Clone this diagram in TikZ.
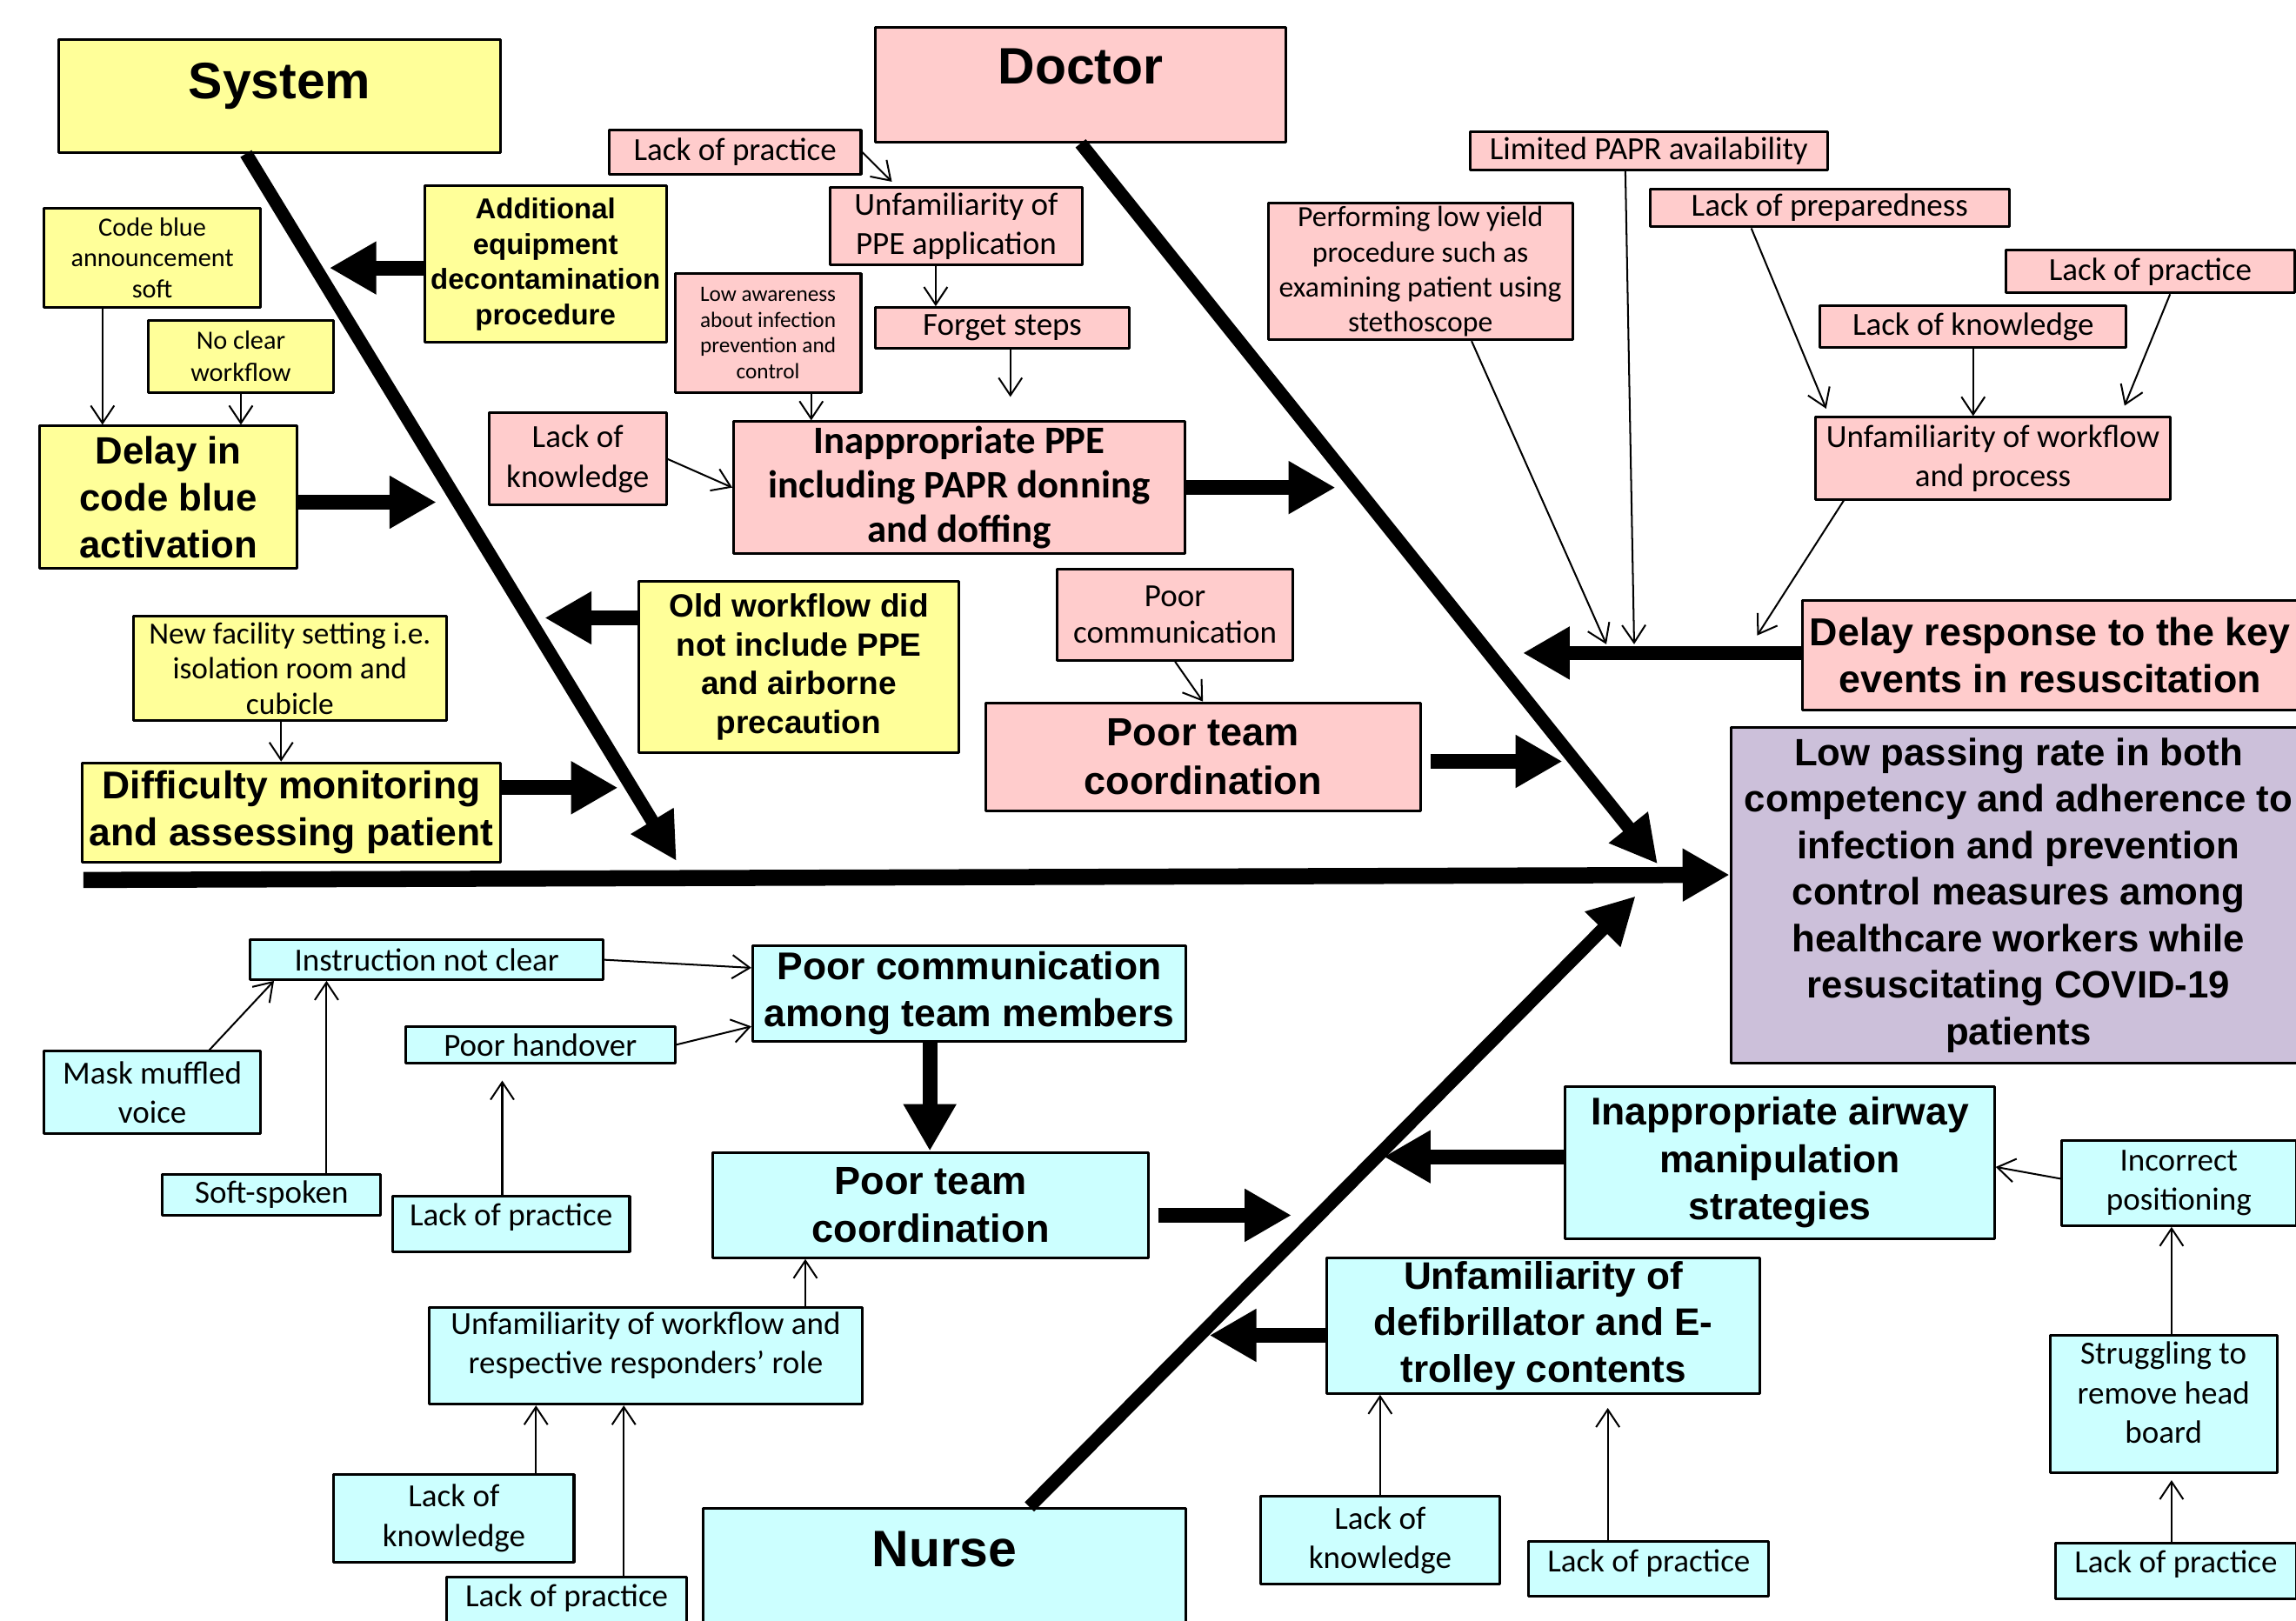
\documentclass[tikz,border=0pt]{standalone}
\usepackage{fontspec}
\setmainfont{Liberation Sans}
\newfontfamily\calfont{Carlito}
\usetikzlibrary{arrows.meta}
\definecolor{sysfill}{HTML}{FFFF99}
\definecolor{docfill}{HTML}{FFCCCC}
\definecolor{nurfill}{HTML}{CCFFFF}
\definecolor{effectfill}{HTML}{CCC0DA}

\begin{document}
\begin{tikzpicture}[x=0.5pt,y=-0.5pt,line join=bevel,
  box/.style={draw,line width=0.9pt,align=center,inner sep=1pt},
  sysbox/.style={box,fill=sysfill},
  docbox/.style={box,fill=docfill},
  nurbox/.style={box,fill=nurfill},
  head/.style={font=\fontsize{17.5}{21}\selectfont\bfseries},
  big/.style={font=\fontsize{13.2}{16}\selectfont\bfseries},
  mid/.style={font=\fontsize{11}{13.3}\selectfont\bfseries},
  small/.style={font=\calfont\fontsize{11}{13.5}\selectfont},
  thin/.style={-{Straight Barb[length=6pt,width=8pt]},line width=0.6pt},
  fat/.style={-{Triangle[length=16pt,width=17pt]},line width=5pt},
  bone/.style={-{Triangle[length=16pt,width=16pt]},line width=4.5pt},
]
\path [use as bounding box,fill=white] (0,0) rectangle (1568,1107);
%%
\node (effect) at (1378.5,611.5) [box,fill=effectfill,font=\fontsize{13}{15.9}\selectfont\bfseries,minimum width=196.5pt,minimum height=114.5pt] {Low passing rate in both\\competency and adherence to\\infection and prevention\\control measures among\\healthcare workers while\\resuscitating COVID-19\\patients};
%% system
\node (sys_0) at (191,65.5) [sysbox,head,minimum width=151pt,minimum height=38.5pt,text depth=10.5pt] {System};
\node (sys_1) at (104,176) [sysbox,font=\calfont\fontsize{9}{10.5}\selectfont,minimum width=74pt,minimum height=34pt] {Code blue\\announcement\\soft};
\node (sys_2) at (164.5,243.5) [sysbox,font=\calfont\fontsize{9}{11}\selectfont,minimum width=63.5pt,minimum height=24.5pt] {No clear\\workflow};
\node (sys_3) at (372.5,180.5) [sysbox,font=\fontsize{9.8}{12}\selectfont\bfseries,minimum width=82.5pt,minimum height=53.5pt] {Additional\\equipment\\decontamination\\procedure};
\node (sys_4) at (115,339.5) [sysbox,font=\fontsize{13}{16}\selectfont\bfseries,minimum width=88pt,minimum height=48.5pt] {Delay in\\code blue\\activation};
\node (sys_5) at (545.5,455.5) [sysbox,mid,minimum width=109.5pt,minimum height=58.5pt] {Old workflow did\\not include PPE\\and airborne\\precaution};
\node (sys_6) at (198,456.5) [sysbox,font=\calfont\fontsize{10.5}{12}\selectfont,minimum width=107pt,minimum height=35.5pt] {New facility setting i.e.\\isolation room and\\cubicle};
\node (sys_7) at (199,555) [sysbox,big,minimum width=143pt,minimum height=34pt] {Difficulty monitoring\\and assessing patient};
%% doctor
\node (doc_0) at (738,58) [docbox,head,minimum width=140pt,minimum height=39pt,text depth=13pt] {Doctor};
\node (doc_1) at (502,104) [docbox,small,minimum width=86pt,minimum height=15pt] {Lack of practice};
\node (doc_2) at (653,154.5) [docbox,small,minimum width=86pt,minimum height=26.5pt] {Unfamiliarity of\\PPE application};
\node (doc_3) at (684.5,224) [docbox,small,minimum width=86.5pt,minimum height=14pt] {Forget steps};
\node (doc_4) at (524.5,227.5) [docbox,font=\calfont\fontsize{7.5}{8.75}\selectfont,minimum width=63.5pt,minimum height=40.5pt] {Low awareness\\about infection\\prevention and\\control};
\node (doc_5) at (394.5,313.5) [docbox,small,minimum width=60.5pt,minimum height=31.5pt] {Lack of\\knowledge};
\node (doc_6) at (655,333) [docbox,font=\calfont\fontsize{13.3}{15.2}\selectfont\bfseries,minimum width=154pt,minimum height=45pt] {Inappropriate PPE\\including PAPR donning\\and doffing};
\node (doc_7) at (802.5,420) [docbox,font=\calfont\fontsize{11}{12.5}\selectfont,minimum width=80.5pt,minimum height=31pt] {Poor\\communication};
\node (doc_8) at (821.5,517) [docbox,font=\fontsize{13.4}{16.5}\selectfont\bfseries,minimum width=148.5pt,minimum height=37pt] {Poor team\\coordination};
\node (doc_9) at (970,185.5) [docbox,font=\calfont\fontsize{10}{12}\selectfont,minimum width=104pt,minimum height=46.5pt] {Performing low yield\\procedure such as\\examining patient using\\stethoscope};
\node (doc_10) at (1126,103) [docbox,small,minimum width=122pt,minimum height=13pt] {Limited PAPR availability};
\node (doc_11) at (1249.5,142) [docbox,small,minimum width=122.5pt,minimum height=13pt] {Lack of preparedness};
\node (doc_12) at (1468.5,185.5) [docbox,small,minimum width=98.5pt,minimum height=14.5pt] {Lack of practice};
\node (doc_13) at (1347.5,223) [docbox,small,minimum width=104.5pt,minimum height=14pt] {Lack of knowledge};
\node (doc_14) at (1361,313) [docbox,small,minimum width=121pt,minimum height=28pt] {Unfamiliarity of workflow\\and process};
\node (doc_15) at (1400,447.5) [docbox,font=\fontsize{13.3}{16}\selectfont\bfseries,minimum width=169pt,minimum height=37.5pt] {Delay response to the key\\events in resuscitation};
%% nurse
\node (nur_0) at (645,1077.5) [nurbox,head,minimum width=165pt,minimum height=47.5pt,text depth=19.5pt] {Nurse};
\node (nur_1) at (291.5,655.5) [nurbox,small,minimum width=120.5pt,minimum height=13.5pt] {Instruction not clear};
\node (nur_2) at (662,678.5) [nurbox,big,minimum width=148pt,minimum height=32.5pt] {Poor communication\\among team members};
\node (nur_3) at (369,713.5) [nurbox,small,minimum width=92pt,minimum height=12.5pt] {Poor handover};
\node (nur_4) at (104,746) [nurbox,small,minimum width=74pt,minimum height=28pt] {Mask muffled\\voice};
\node (nur_5) at (185.5,816) [nurbox,small,minimum width=74.5pt,minimum height=14pt] {Soft-spoken};
\node (nur_6) at (349,836) [nurbox,small,minimum width=81pt,minimum height=19pt,text depth=6.5pt] {Lack of practice};
\node (nur_7) at (635.5,823) [nurbox,font=\fontsize{13.4}{16.5}\selectfont\bfseries,minimum width=148.5pt,minimum height=36pt] {Poor team\\coordination};
\node (nur_8) at (441,926) [nurbox,small,minimum width=148pt,minimum height=33pt,text depth=9pt] {Unfamiliarity of workflow and\\respective responders’ role};
\node (nur_9) at (310,1037) [nurbox,small,minimum width=82pt,minimum height=30pt] {Lack of\\knowledge};
\node (nur_10) at (387,1096) [nurbox,small,minimum width=82pt,minimum height=19pt,text depth=6.5pt] {Lack of practice};
\node (nur_11) at (1215.5,794) [nurbox,font=\fontsize{13.2}{16.2}\selectfont\bfseries,minimum width=146.5pt,minimum height=52pt] {Inappropriate airway\\manipulation\\strategies};
\node (nur_12) at (1488,808) [nurbox,small,minimum width=80pt,minimum height=29pt] {Incorrect\\positioning};
\node (nur_13) at (1477.5,959) [nurbox,small,minimum width=77.5pt,minimum height=47pt,text depth=8pt] {Struggling to\\remove head\\board};
\node (nur_14) at (1486,1073) [nurbox,small,minimum width=82pt,minimum height=19pt,text depth=6.5pt] {Lack of practice};
\node (nur_15) at (1054,905.5) [nurbox,font=\fontsize{13.1}{16}\selectfont\bfseries,minimum width=148pt,minimum height=45.5pt] {Unfamiliarity of\\defibrillator and E-\\trolley contents};
\node (nur_16) at (942.5,1052) [nurbox,small,minimum width=81.5pt,minimum height=30pt] {Lack of\\knowledge};
\node (nur_17) at (1126,1071.5) [nurbox,small,minimum width=82pt,minimum height=18.5pt,text depth=5.5pt] {Lack of practice};
%% tips
\coordinate (spine_0) at (57,601);
\coordinate (sys_tip) at (462,588);
\coordinate (doc_tip) at (1132,590);
\coordinate (nur_tip) at (1117,612);
\coordinate (sys_3_tip) at (225,183);
\coordinate (sys_4_tip) at (298,343);
\coordinate (sys_5_tip) at (372,422);
\coordinate (sys_7_tip) at (422,538);
\coordinate (doc_6_tip) at (912,333);
\coordinate (doc_8_tip) at (1067,520);
\coordinate (doc_15_tip) at (1040,446);
\coordinate (doc_9_tip) at (1097,440);
\coordinate (doc_10_tip) at (1116,440);
\coordinate (doc_14_tip) at (1200,434);
\coordinate (nur_6_tip) at (343,738);
\coordinate (nur_7_tip) at (882,830);
\coordinate (nur_11_tip) at (945,790);
\coordinate (nur_15_tip) at (826,912);
%% spine and bones
\draw [line width=5.5pt,-{Triangle[length=16pt,width=17pt]}] (spine_0) -- ([yshift=7pt]effect.west);
\draw [bone] ([xshift=-11.5pt]sys_0.south) -- (sys_tip);
\draw [bone] (doc_0.south) -- (doc_tip);
\draw [bone] ([xshift=29pt]nur_0.north) -- (nur_tip);
%% causes
\draw [fat] (sys_3.west |- sys_3_tip) -- (sys_3_tip);
\draw [fat] (sys_4.east |- sys_4_tip) -- (sys_4_tip);
\draw [fat] (sys_5.west |- sys_5_tip) -- (sys_5_tip);
\draw [fat] (sys_7.east |- sys_7_tip) -- (sys_7_tip);
\draw [fat] (doc_6.east |- doc_6_tip) -- (doc_6_tip);
\draw [fat] ([xshift=3pt]doc_8.east |- doc_8_tip) -- (doc_8_tip);
\draw [fat] (doc_15.west |- doc_15_tip) -- (doc_15_tip);
\draw [fat] ([xshift=3pt]nur_7.east |- nur_7_tip) -- (nur_7_tip);
\draw [fat] (nur_11.west |- nur_11_tip) -- (nur_11_tip);
\draw [fat] (nur_15.west |- nur_15_tip) -- (nur_15_tip);
\draw [fat] ([xshift=-13.5pt]nur_2.south) -- ([xshift=-13.5pt]nur_2.south |- nur_7.north);
%% sub-causes
\draw [thin] ([xshift=-17pt]sys_1.south) -- ([xshift=-17pt]sys_1.south |- sys_4.north);
\draw [thin] (sys_2.south) -- (sys_2.south |- sys_4.north);
\draw [thin] ([xshift=-3pt]sys_6.south) -- ([xshift=-3pt]sys_6.south |- sys_7.north);
\draw [thin] (doc_1.east) -- ([shift={(21.5pt,1.5pt)}]doc_2.north west);
\draw [thin] ([xshift=-7pt]doc_2.south) -- ([xshift=-7pt]doc_2.south |- doc_3.north);
\draw [thin] ([xshift=2.75pt]doc_3.south) -- ([xshift=2.75pt,yshift=8pt]doc_3.south |- doc_6.north);
\draw [thin] ([xshift=14.75pt]doc_4.south) -- ([xshift=14.75pt]doc_4.south |- doc_6.north);
\draw [thin] (doc_5.east) -- (doc_6.west);
\draw [thin] (doc_7.south) -- (doc_8.north);
\draw [thin] ([xshift=17.5pt]doc_9.south) -- (doc_9_tip);
\draw [thin] ([xshift=-8pt]doc_10.south) -- (doc_10_tip);
\draw [thin] ([xshift=-26.75pt]doc_11.south) -- ([shift={(4pt,2.5pt)}]doc_14.north west);
\draw [thin] (doc_13.south) -- (doc_13.south |- doc_14.north);
\draw [thin] ([xshift=6.75pt]doc_12.south) -- ([shift={(-16pt,3.5pt)}]doc_14.north east);
\draw [thin] ([xshift=10pt]doc_14.south west) -- (doc_14_tip);
\draw [thin] (nur_1.east) -- ([yshift=8.75pt]nur_2.west);
\draw [thin] (nur_3.east) -- ([yshift=-11.25pt]nur_2.west);
\draw [thin] ([xshift=19.5pt]nur_4.north) -- ([xshift=8.5pt]nur_1.south west);
\draw [thin] ([xshift=18.75pt]nur_5.north) -- ([xshift=18.75pt]nur_5.north |- nur_1.south);
\draw [thin] ([xshift=-3pt]nur_6.north) -- (nur_6_tip);
\draw [thin] ([xshift=54.5pt]nur_8.north) -- ([xshift=54.5pt]nur_8.north |- nur_7.south);
\draw [thin] ([xshift=28pt]nur_9.north) -- ([xshift=28pt]nur_9.north |- nur_8.south);
\draw [thin] ([xshift=19.5pt]nur_10.north) -- ([xshift=19.5pt]nur_10.north |- nur_8.south);
\draw [thin] ([yshift=1.5pt]nur_12.west) -- ([yshift=-1.5pt]nur_11.east);
\draw [thin] ([xshift=2.75pt]nur_13.north) -- ([xshift=2.75pt]nur_13.north |- nur_12.south);
\draw [thin] ([xshift=-1.5pt]nur_14.north) -- ([xshift=-1.5pt,yshift=-2pt]nur_14.north |- nur_13.south);
\draw [thin] (nur_16.north) -- (nur_16.north |- nur_15.south);
\draw [thin] ([xshift=-14pt]nur_17.north) -- ([xshift=-14pt,yshift=-4.5pt]nur_17.north |- nur_15.south);
%
\end{tikzpicture}
\end{document}
